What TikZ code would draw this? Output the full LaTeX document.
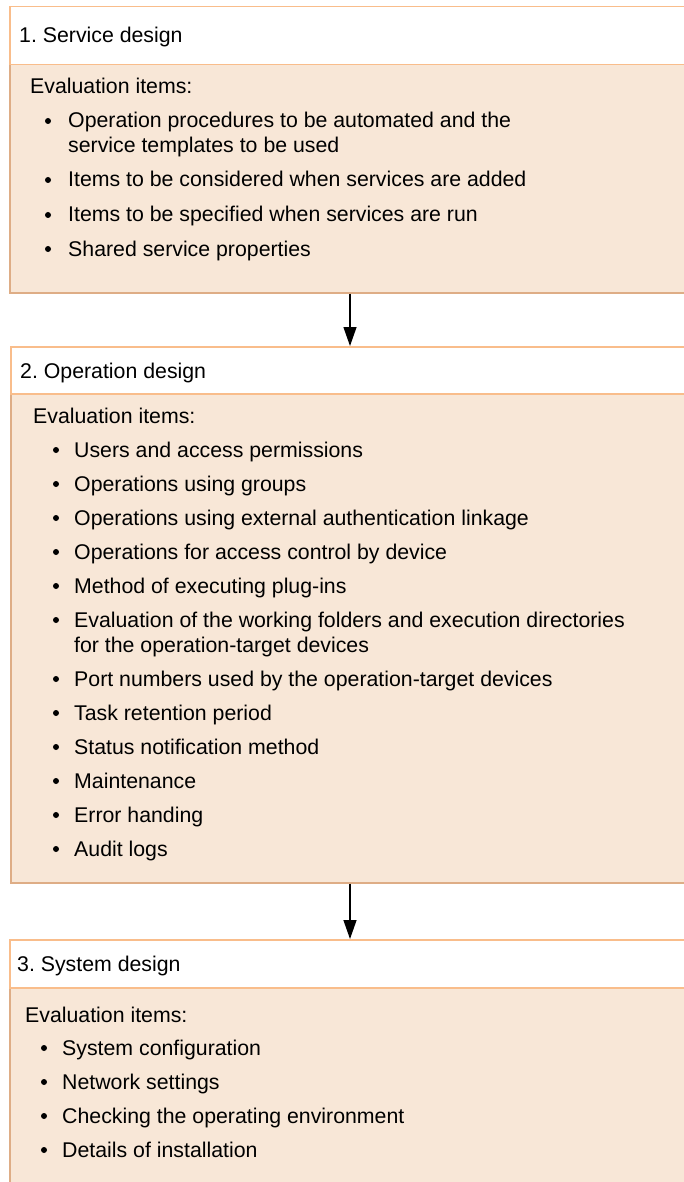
\documentclass[tikz,border=0pt]{standalone}
\usepackage{fontspec}
\setmainfont{Liberation Sans}
\usetikzlibrary{positioning, arrows.meta}
\definecolor{boxfill}{HTML}{F8E7D7}
\definecolor{headline}{HTML}{F9BD8B}
\definecolor{bodyline}{HTML}{DEAD86}
\frenchspacing

\begin{document}
\begin{tikzpicture}[x=1pt, y=-1pt, font=\fontsize{21.3}{25}\selectfont]
  % Define the styles for the boxes, the list entries and the arrows
  \tikzset{
    header/.style={draw=headline, line width=1.5pt, fill=white, anchor=north west, minimum width=720pt, inner sep=0pt},
    body/.style={draw=bodyline, line width=1.5pt, fill=boxfill, anchor=north west, minimum width=720pt, inner sep=0pt},
    entry/.style={anchor=base west, inner sep=0pt, align=left},
    flow/.style={-{Triangle[length=19pt, width=13pt]}, line width=1.3pt}
  }
  \useasboundingbox (0,0) rectangle (684,1182);
  \clip (0,0) rectangle (684,1182);

  % Box 1: service design
  \node[body, minimum height=228pt] (body1) at (9,64) {};
  \node[header, minimum height=58pt] (head1) at (9,6) {};
  \node[entry] (title1) at (19,43) {1. Service design};
  \node[entry] (eval1) at (30,94) {Evaluation items:};
  % y = first baseline, n = extra lines of the entry
  \foreach \y/\n/\txt [count=\i] in {128/1/{Operation procedures to be automated and the\\service templates to be used},
      187/0/Items to be considered when services are added,
      222/0/Items to be specified when services are run,
      256/0/Shared service properties} {
    \fill (48,\y-7) circle (3pt);
    \node[entry] (sv\i) at (68,\y+25*\n) {\txt};
  }

  % Box 2: operation design
  \node[body, minimum height=489pt] (body2) at (10,393) {};
  \node[header, minimum height=47pt] (head2) at (10,346) {};
  \node[entry] (title2) at (20,378) {2. Operation design};
  \node[entry] (eval2) at (33,423) {Evaluation items:};
  \foreach \y/\n/\txt [count=\i] in {457/0/Users and access permissions,
      491/0/Operations using groups,
      525/0/Operations using external authentication linkage,
      559/0/Operations for access control by device,
      593/0/Method of executing plug-ins,
      627/1/{Evaluation of the working folders and execution directories\\for the operation-target devices},
      686/0/Port numbers used by the operation-target devices,
      720/0/Task retention period,
      754/0/Status notification method,
      788/0/Maintenance,
      822/0/Error handing,
      856/0/Audit logs} {
    \fill (56,\y-7) circle (3pt);
    \node[entry] (op\i) at (74,\y+25*\n) {\txt};
  }

  % Box 3: system design
  \node[body, minimum height=250pt] (body3) at (9,987) {};
  \node[header, minimum height=48pt] (head3) at (9,939) {};
  \node[entry] (title3) at (17,971) {3. System design};
  \node[entry] (eval3) at (25,1022) {Evaluation items:};
  \foreach \y/\txt [count=\i] in {1055/System configuration,
      1089/Network settings,
      1123/Checking the operating environment,
      1157/Details of installation} {
    \fill (44,\y-7) circle (3pt);
    \node[entry] (sy\i) at (62,\y) {\txt};
  }

  % Arrows between the design steps
  \coordinate (axis) at (350,0);
  \draw[flow] (body1.south -| axis) -- (head2.north -| axis);
  \draw[flow] (body2.south -| axis) -- (head3.north -| axis);
\end{tikzpicture}
\end{document}
